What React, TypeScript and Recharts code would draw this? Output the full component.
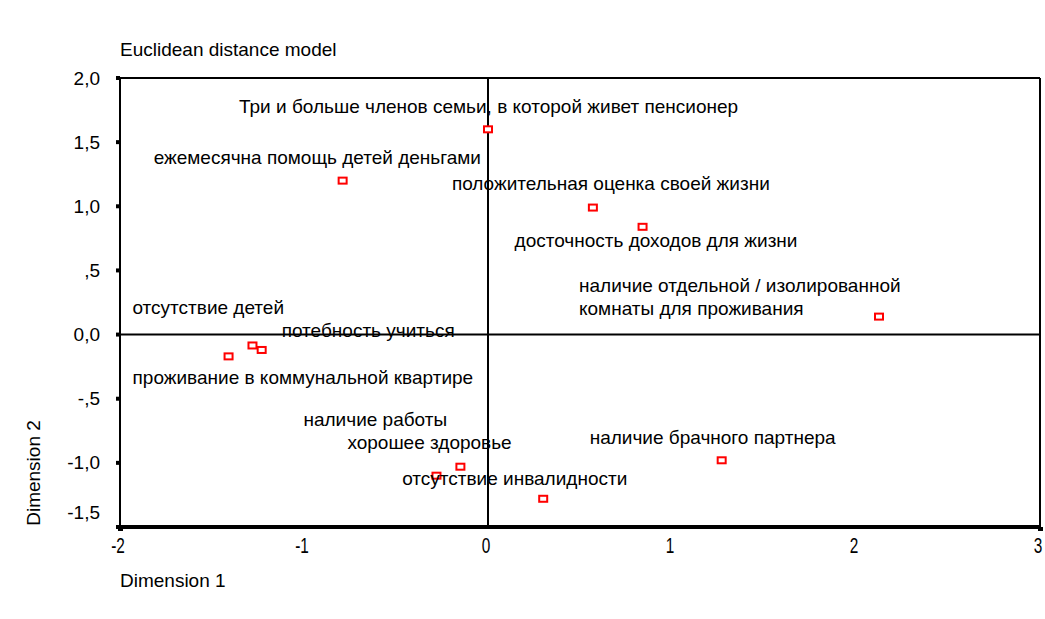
import { ScatterChart, Scatter, XAxis, YAxis, ReferenceLine } from 'recharts';

// stimulus coordinates (Euclidean distance model)
const names = [
  'Три и больше членов семьи, в которой живет пенсионер',
  'ежемесячна помощь детей деньгами',
  'положительная оценка своей жизни',
  'досточность доходов для жизни',
  'наличие отдельной / изолированной|комнаты для проживания',
  'проживание в коммунальной квартире',
  'отсутствие детей',
  'потебность учиться',
  'наличие работы',
  'хорошее здоровье',
  'отсутствие инвалидности',
  'наличие брачного партнера',
];
const dim1 = [0.0, -0.79, 0.57, 0.84, 2.125, -1.41, -1.28, -1.23, -0.28, -0.15, 0.3, 1.27];
const dim2 = [1.6, 1.2, 0.99, 0.84, 0.14, -0.17, -0.085, -0.12, -1.1, -1.03, -1.28, -0.98];

const xTicks = [-2, -1, 0, 1, 2, 3];
const xTickLabels = ['-2', '-1', '0', '1', '2', '3'];
const yTicks = [-1.5, -1, -0.5, 0, 0.5, 1, 1.5, 2];
const yTickLabels = ['-1,5', '-1,0', '-,5', '0,0', ',5', '1,0', '1,5', '2,0'];

// label placement relative to each marker (px): left edge, vertical centre
const labelOffsets = [
  [-249, -23],
  [-189, -23],
  [-141, -24],
  [-128, 14],
  [-300, -31],
  [-96, 21],
  [-120, -38],
  [20, -19],
  [-133, -56],
  [-113, -24],
  [-141, -20],
  [-132, -23],
];

const points = names.map((name, i) => ({ name, x: dim1[i], y: dim2[i] }));

const FONT = '"Liberation Sans", Arial, sans-serif';
const FS = 19;

const PointShape = (props: any) => {
  const { cx, cy, index } = props;
  const [dx, dy] = labelOffsets[index];
  const lines = names[index].split('|');
  return (
    <g>
      {lines.map((line, k) => (
        <text
          key={k}
          x={cx + dx}
          y={cy + dy + k * 23}
          dominantBaseline="central"
          fontSize={FS}
          fontFamily={FONT}
          fill="#000"
        >
          {line}
        </text>
      ))}
      <rect x={cx - 4} y={cy - 3} width={8} height={6} fill="#fff" stroke="#ff0000" strokeWidth={2} />
    </g>
  );
};

const XTick = (props: any) => {
  const { x, y, payload, index } = props;
  const i = xTicks.indexOf(payload.value);
  const edge = index === 0 || index === xTicks.length - 1;
  return (
    <g>
      {edge && <rect x={x - 2} y={y - 6} width={5} height={4} fill="#000" />}
      <text
        transform={`translate(${x - 2},${y + 12}) scale(0.7,1)`}
        textAnchor="middle"
        dominantBaseline="central"
        fontSize={22}
        fontFamily={FONT}
        fill="#000"
      >
        {xTickLabels[i]}
      </text>
    </g>
  );
};

const YTick = (props: any) => {
  const { x, y, payload } = props;
  const i = yTicks.indexOf(payload.value);
  const shift = payload.value === yTicks[0] ? -15 : 0;
  return (
    <text
      x={x}
      y={y + shift}
      textAnchor="end"
      dominantBaseline="central"
      fontSize={FS}
      fontFamily={FONT}
      fill="#000"
    >
      {yTickLabels[i]}
    </text>
  );
};

export default function App() {
  return (
    <div style={{ position: 'absolute', left: 0, top: 0, width: 1045, height: 619, background: '#fff', fontFamily: FONT }}>
      <div style={{ position: 'absolute', left: 120, top: 39, fontSize: FS, whiteSpace: 'nowrap' }}>
        Euclidean distance model
      </div>
      <div
        style={{
          position: 'absolute',
          left: 34,
          top: 473,
          fontSize: FS,
          whiteSpace: 'nowrap',
          transform: 'translate(-50%, -50%) rotate(-90deg)',
        }}
      >
        Dimension 2
      </div>
      <div style={{ position: 'absolute', left: 120, top: 570, fontSize: FS, whiteSpace: 'nowrap' }}>
        Dimension 1
      </div>
      <ScatterChart width={1045} height={619} margin={{ top: 78, right: 5, bottom: 52, left: 80 }}>
        <XAxis
          type="number"
          dataKey="x"
          domain={[-2, 3]}
          ticks={xTicks}
          height={40}
          axisLine={{ stroke: '#000', strokeWidth: 4 }}
          tickLine={false}
          tickSize={0}
          tickMargin={6}
          tick={<XTick />}
          interval={0}
        />
        <YAxis
          type="number"
          dataKey="y"
          domain={[-1.5, 2]}
          ticks={yTicks}
          width={40}
          axisLine={{ stroke: '#000', strokeWidth: 2 }}
          tickLine={{ stroke: '#000', strokeWidth: 4 }}
          tickSize={4}
          tickMargin={16}
          tick={<YTick />}
          interval={0}
        />
        <ReferenceLine y={2} stroke="#000" strokeWidth={2} />
        <ReferenceLine x={3} stroke="#000" strokeWidth={2} />
        <ReferenceLine y={0} stroke="#000" strokeWidth={2} />
        <ReferenceLine x={0} stroke="#000" strokeWidth={2} />
        <Scatter data={points} shape={<PointShape />} isAnimationActive={false} />
      </ScatterChart>
    </div>
  );
}
